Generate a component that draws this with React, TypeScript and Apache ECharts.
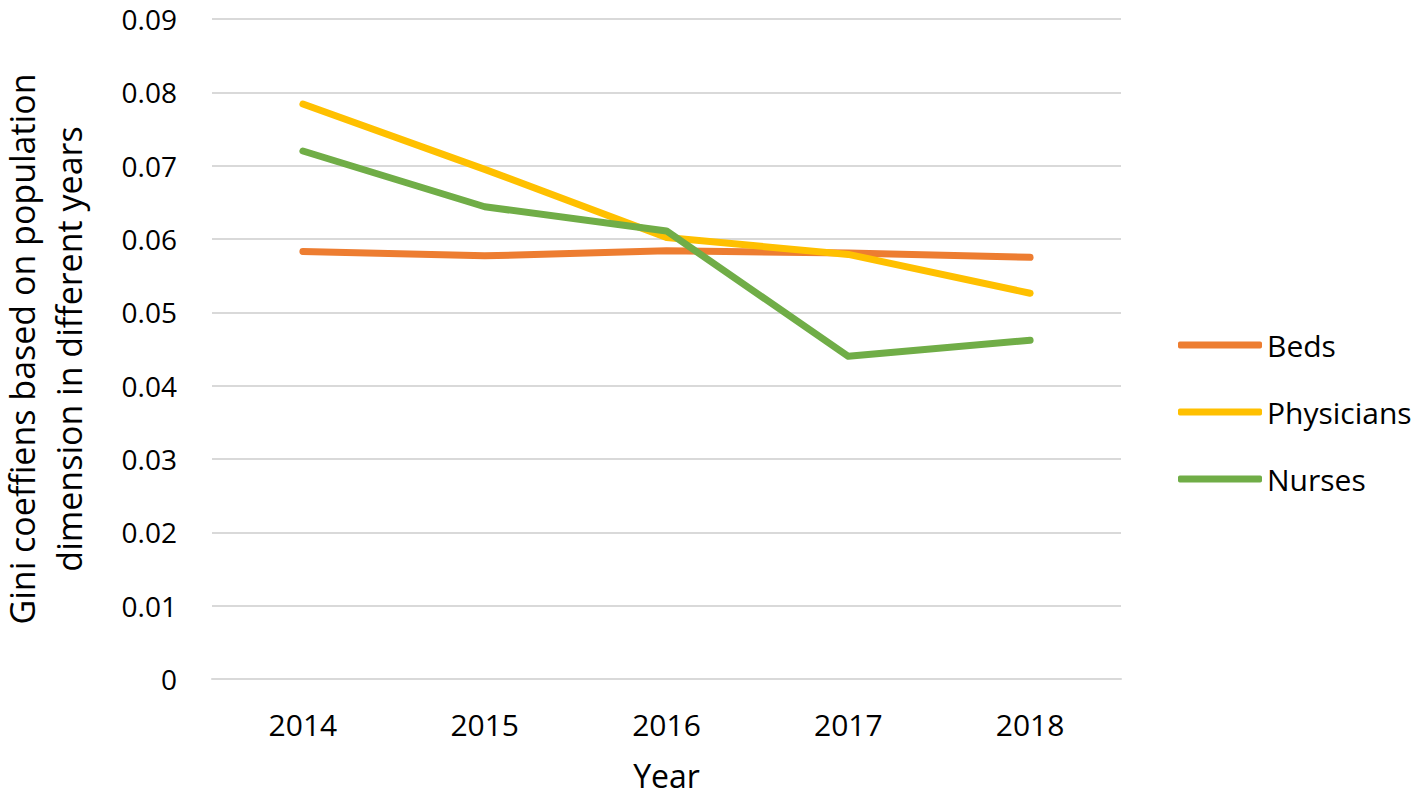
import React, { useEffect, useRef } from "react";
import * as echarts from "echarts";

const years = ["2014", "2015", "2016", "2017", "2018"];
const beds = [0.0583, 0.0577, 0.0584, 0.0581, 0.0575];
const physicians = [0.0784, 0.0695, 0.0602, 0.0579, 0.0526];
const nurses = [0.072, 0.0644, 0.0611, 0.044, 0.0462];

const FONT = "'Open Sans', sans-serif";

export default function App() {
  const ref = useRef<HTMLDivElement>(null);
  useEffect(() => {
    if (!ref.current) return;
    const chart = echarts.init(ref.current, undefined, { renderer: "svg" });
    const mkSeries = (name: string, data: number[], color: string) => ({
      name,
      type: "line",
      data,
      symbol: "none",
      color,
      lineStyle: { width: 7, color, cap: "round", join: "round" },
    });
    chart.setOption({
      animation: false,
      backgroundColor: "#ffffff",
      textStyle: { fontFamily: FONT, color: "#000" },
      grid: { left: 212, right: 295, top: 19, bottom: 120, outerBoundsMode: "none", containLabel: false },
      legend: {
        orient: "vertical",
        left: 1178,
        top: 330,
        padding: 0,
        itemWidth: 84,
        itemHeight: 7,
        itemGap: 37,
        icon: "roundRect",
        textStyle: { fontSize: 30, lineHeight: 30, color: "#000", fontFamily: FONT, padding: [0, 0, 0, 0] },
        data: ["Beds", "Physicians", "Nurses"],
      },
      xAxis: {
        type: "category",
        data: years,
        boundaryGap: true,
        name: "Year",
        nameLocation: "middle",
        nameGap: 80,
        nameTextStyle: { fontSize: 32, lineHeight: 32, color: "#000", fontFamily: FONT },
        axisLine: { show: true, lineStyle: { color: "#d9d9d9", width: 2 } },
        axisTick: { show: false },
        axisLabel: { fontSize: 30, lineHeight: 30, margin: 30, color: "#000", fontFamily: FONT },
      },
      yAxis: {
        type: "value",
        min: 0,
        max: 0.09,
        interval: 0.01,
        name: "Gini coeffiens based on population\ndimension in different years",
        nameLocation: "middle",
        nameRotate: 90,
        nameGap: 120,
        nameTextStyle: { fontSize: 34, lineHeight: 47, color: "#000", fontFamily: FONT, align: "center" },
        axisLine: { show: false },
        axisTick: { show: false },
        splitLine: { lineStyle: { color: "#d9d9d9", width: 2 } },
        axisLabel: {
          fontSize: 28,
          lineHeight: 24,
          margin: 35,
          color: "#000",
          fontFamily: FONT,
          formatter: (v: number) => (v === 0 ? "0" : v.toFixed(2)),
        },
      },
      series: [
        mkSeries("Beds", beds, "#ED7D31"),
        mkSeries("Physicians", physicians, "#FFC000"),
        mkSeries("Nurses", nurses, "#70AD47"),
      ],
    });
    return () => chart.dispose();
  }, []);
  return (
    <div
      ref={ref}
      style={{ position: "fixed", left: 0, top: 0, width: 1416, height: 799, background: "#fff" }}
    />
  );
}
